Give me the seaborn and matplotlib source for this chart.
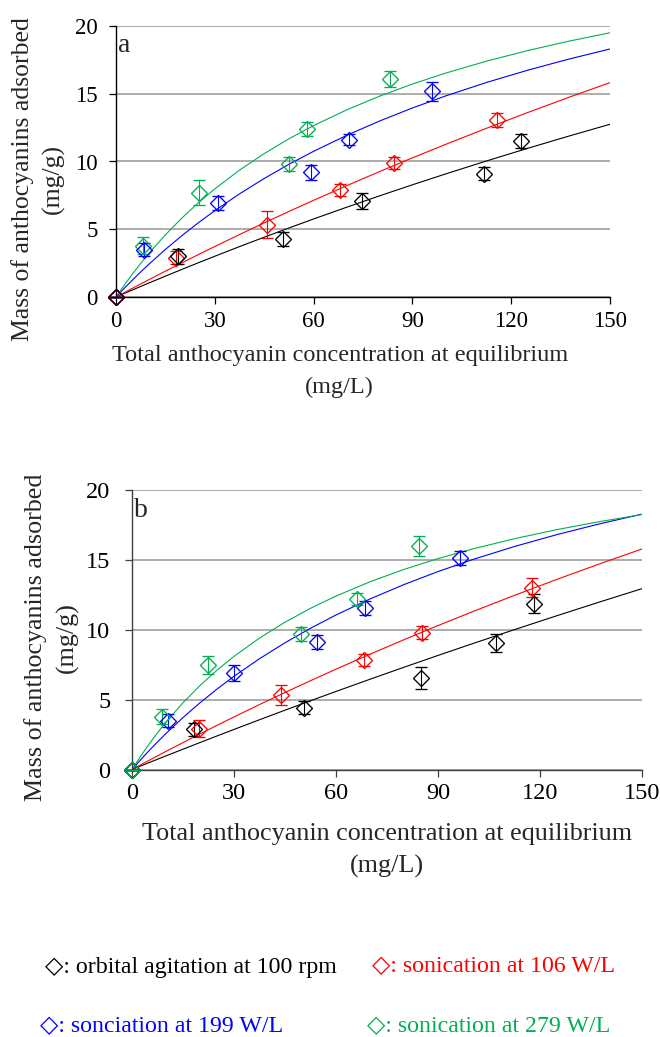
import matplotlib
matplotlib.use("Agg")
import matplotlib.pyplot as plt
import seaborn as sns

# ---- data ------------------------------------------------------------------
labels = ["orbital agitation at 100 rpm", "sonication at 106 W/L",
          "sonciation at 199 W/L", "sonication at 279 W/L"]
colors = ["#000000", "#FF0000", "#0000FF", "#00B050"]

# panel a : measured points (x = Ce mg/L, y = q mg/g, err = sd)
a_orb_x = [0, 18.7, 50.6, 74.7, 111.8, 123.1]
a_orb_y = [0, 3.0, 4.3, 7.1, 9.1, 11.5]
a_orb_err = [0, 0.55, 0.5, 0.58, 0.5, 0.5]
a_s106_x = [0, 18.3, 45.8, 68.1, 84.4, 115.6]
a_s106_y = [0, 2.9, 5.35, 7.9, 9.9, 13.05]
a_s106_err = [0, 0.5, 1.0, 0.45, 0.45, 0.5]
a_s199_x = [0, 8.6, 31.1, 59.2, 70.7, 96.1]
a_s199_y = [0, 3.5, 6.95, 9.2, 11.6, 15.2]
a_s199_err = [0, 0.45, 0.5, 0.55, 0.4, 0.7]
a_s279_x = [0, 8.3, 25.2, 52.5, 58.0, 83.2]
a_s279_y = [0, 3.8, 7.7, 9.8, 12.4, 16.1]
a_s279_err = [0, 0.65, 0.9, 0.5, 0.5, 0.6]

# panel b : measured points
b_orb_x = [0, 18.3, 50.7, 84.9, 107.0, 118.3]
b_orb_y = [0, 2.88, 4.43, 6.53, 9.03, 11.87]
b_orb_err = [0, 0.48, 0.48, 0.79, 0.64, 0.68]
b_s106_x = [0, 19.8, 43.7, 68.2, 85.2, 117.7]
b_s106_y = [0, 2.92, 5.33, 7.84, 9.8, 13.0]
b_s106_err = [0, 0.6, 0.73, 0.45, 0.48, 0.68]
b_s199_x = [0, 10.7, 30.0, 54.5, 68.5, 96.5]
b_s199_y = [0, 3.5, 6.9, 9.1, 11.55, 15.1]
b_s199_err = [0, 0.47, 0.55, 0.49, 0.49, 0.5]
b_s279_x = [0, 8.7, 22.3, 49.6, 66.3, 84.4]
b_s279_y = [0, 3.78, 7.48, 9.7, 12.2, 16.0]
b_s279_err = [0, 0.55, 0.67, 0.47, 0.45, 0.72]

# fitted isotherm lines
fit_x = [0, 2.5, 5, 7.5, 10, 15, 20, 25, 30, 37.5, 45, 52.5, 60, 70, 80,
         90, 100, 112.5, 125, 137.5, 150]
fit_a_orb = [0, 0.262, 0.521, 0.778, 1.034, 1.539, 2.036, 2.526, 3.008, 3.719, 4.413,
             5.093, 5.758, 6.622, 7.463, 8.280, 9.075, 10.039, 10.972, 11.874, 12.748]
fit_a_s106 = [0, 0.324, 0.645, 0.964, 1.280, 1.906, 2.522, 3.129, 3.727, 4.607, 5.469,
              6.311, 7.136, 8.209, 9.253, 10.268, 11.255, 12.453, 13.613, 14.735, 15.822]
fit_a_s199 = [0, 0.639, 1.255, 1.850, 2.423, 3.510, 4.527, 5.478, 6.371, 7.612, 8.747,
              9.791, 10.752, 11.924, 12.985, 13.950, 14.832, 15.833, 16.737, 17.557, 18.305]
fit_a_s279 = [0, 0.875, 1.700, 2.481, 3.221, 4.589, 5.827, 6.952, 7.979, 9.361, 10.584,
              11.674, 12.650, 13.805, 14.819, 15.717, 16.518, 17.406, 18.187, 18.880, 19.500]
fit_b_orb = [0, 0.245, 0.489, 0.732, 0.973, 1.453, 1.929, 2.400, 2.867, 3.560, 4.244,
             4.919, 5.584, 6.458, 7.318, 8.162, 8.992, 10.010, 11.007, 11.984, 12.941]
fit_b_s106 = [0, 0.328, 0.653, 0.976, 1.296, 1.927, 2.549, 3.160, 3.762, 4.647, 5.511,
              6.355, 7.180, 8.250, 9.289, 10.298, 11.277, 12.463, 13.607, 14.712, 15.780]
fit_b_s199 = [0, 0.685, 1.342, 1.972, 2.577, 3.717, 4.774, 5.755, 6.668, 7.927, 9.068,
              10.107, 11.057, 12.204, 13.234, 14.164, 15.008, 15.958, 16.810, 17.577, 18.272]
fit_b_s279 = [0, 0.937, 1.809, 2.625, 3.388, 4.777, 6.009, 7.109, 8.097, 9.405, 10.540,
              11.533, 12.411, 13.433, 14.318, 15.091, 15.772, 16.517, 17.166, 17.737, 18.242]

x_ticks = [0, 30, 60, 90, 120, 150]
y_ticks = [0, 5, 10, 15, 20]

sns.set_theme(style="white")
plt.rcParams['font.family'] = ['Liberation Serif', 'DejaVu Sans']

W, H = 660, 1037
fig = plt.figure(figsize=(W / 100, H / 100), dpi=100)


def px_axes(left, right, top, bottom):
    return fig.add_axes([left / W, 1 - bottom / H, (right - left) / W, (bottom - top) / H])


def draw_panel(ax, points, fits, spine_color, letter, fs, ypad, point_order):
    ax.set_xlim(0, 150)
    ax.set_ylim(0, 20)
    ax.yaxis.grid(True, color="#A6A6A6", lw=1.3)
    ax.xaxis.grid(False)
    ax.set_axisbelow(True)

    # fitted curves
    for fy, c in zip(fits, colors):
        sns.lineplot(x=fit_x, y=fy, color=c, lw=0.8, ax=ax, estimator=None, sort=False)

    # measured points with error bars (last one drawn sits on top at the origin)
    for i in point_order:
        px, py, pe = points[i]
        c = colors[i]
        ax.errorbar(px, py, yerr=pe, fmt="D", mfc="none", mec=c, ecolor=c,
                    ms=8, mew=0.95, capsize=4.5, elinewidth=0.8, capthick=0.8,
                    clip_on=False, zorder=3)

    for side in ["top", "right"]:
        ax.spines[side].set_visible(False)
    for side in ["left", "bottom"]:
        ax.spines[side].set_color(spine_color)
        ax.spines[side].set_linewidth(1.0)

    ax.set_xticks(x_ticks)
    ax.set_yticks(y_ticks)
    ax.tick_params(axis="both", direction="out", length=5, width=0.9,
                   color=spine_color, labelsize=fs, labelcolor="black",
                   bottom=True, left=True)
    ax.tick_params(axis="x", pad=5)
    ax.tick_params(axis="y", pad=ypad)

    ax.text(0.004, 0.905, letter, transform=ax.transAxes, fontsize=20,
            va="baseline", ha="left")


ax_a = px_axes(116, 610, 26, 297)
draw_panel(ax_a,
           [(a_orb_x, a_orb_y, a_orb_err), (a_s106_x, a_s106_y, a_s106_err),
            (a_s199_x, a_s199_y, a_s199_err), (a_s279_x, a_s279_y, a_s279_err)],
           [fit_a_orb, fit_a_s106, fit_a_s199, fit_a_s279],
           "black", "a", 16.5, 8, [3, 2, 1, 0])
ax_a.set_xlabel("Total anthocyanin concentration at equilibrium\n(mg/L)",
                fontsize=17.5, linespacing=1.7)
ax_a.xaxis.label.set_verticalalignment("center")
ax_a.xaxis.set_label_coords(0.453, -0.275)
ax_a.set_ylabel("Mass of anthocyanins adsorbed\n(mg/g)", fontsize=18.5, linespacing=1.4)
ax_a.yaxis.label.set_verticalalignment("center")
ax_a.yaxis.set_label_coords(-0.158, 0.434)

ax_b = px_axes(132, 642, 490, 769.5)
draw_panel(ax_b,
           [(b_orb_x, b_orb_y, b_orb_err), (b_s106_x, b_s106_y, b_s106_err),
            (b_s199_x, b_s199_y, b_s199_err), (b_s279_x, b_s279_y, b_s279_err)],
           [fit_b_orb, fit_b_s106, fit_b_s199, fit_b_s279],
           "#404040", "b", 17.5, 10.5, [0, 1, 2, 3])
ax_b.set_xlabel("Total anthocyanin concentration at equilibrium\n(mg/L)",
                fontsize=18.8, linespacing=1.6)
ax_b.xaxis.label.set_verticalalignment("center")
ax_b.xaxis.set_label_coords(0.5, -0.29)
ax_b.set_ylabel("Mass of anthocyanins adsorbed\n(mg/g)", fontsize=18.7, linespacing=1.55)
ax_b.yaxis.label.set_verticalalignment("center")
ax_b.yaxis.set_label_coords(-0.158, 0.472)

# legend written as coloured text below the panels
legend_pos = [(45, 967), (372, 967), (40, 1027), (367, 1027)]
for (lx, ly), lab, c in zip(legend_pos, labels, colors):
    fig.text(lx / W, 1 - ly / H, "\u25c7: " + lab, color=c, fontsize=17.2,
             ha="left", va="center")

fig.savefig("out.png", dpi=100)
plt.close(fig)
